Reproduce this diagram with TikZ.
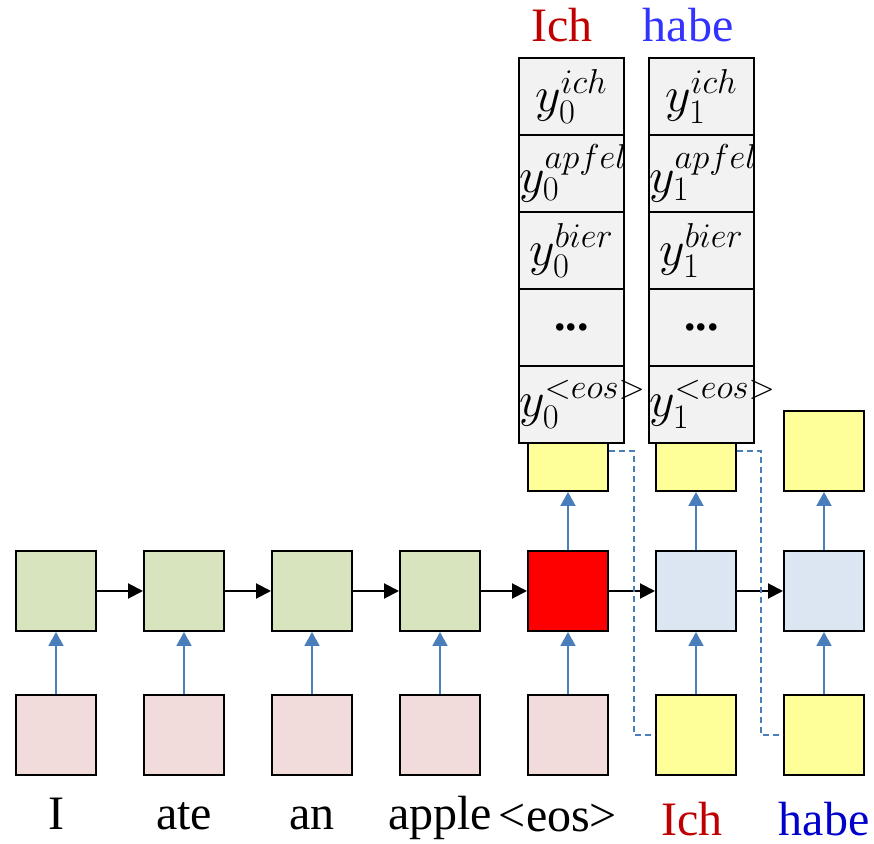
\documentclass[tikz,border=0pt]{standalone}
\usepackage{fontspec}
\setmainfont{Liberation Serif}
\usetikzlibrary{arrows.meta}
\definecolor{encgreen}{HTML}{D7E4BD}
\definecolor{embpink}{HTML}{F2DCDB}
\definecolor{decblue}{HTML}{DCE6F2}
\definecolor{yelfill}{HTML}{FFFF99}
\definecolor{probgray}{HTML}{F2F2F2}
\definecolor{arrblue}{HTML}{4A7EBB}
\definecolor{ichred}{HTML}{C00000}
\definecolor{habeblue}{HTML}{3333FF}
\definecolor{habedark}{HTML}{0000CC}

\begin{document}
\begin{tikzpicture}[x=0.5pt,y=-0.5pt,
  cell/.style={draw,line width=1pt,minimum width=40pt,minimum height=40pt,inner sep=0pt},
  enc/.style={cell,fill=encgreen},
  emb/.style={cell,fill=embpink},
  dec/.style={cell,fill=decblue},
  yel/.style={cell,fill=yelfill},
  prob/.style={draw,line width=1pt,fill=probgray,text width=52.5pt,align=center,minimum height=38.5pt,inner sep=0pt,font=\fontsize{23}{23}\selectfont},
  uparr/.style={draw=arrblue,line width=1pt,-{Triangle[length=7pt,width=7.5pt]}},
  fwd/.style={line width=1pt,-{Triangle[length=7.5pt,width=7.5pt]}},
  feed/.style={draw=arrblue,line width=0.7pt,dash pattern=on 3pt off 2pt},
  word/.style={font=\fontsize{24}{28}\selectfont,anchor=base,inner sep=1pt}]
\useasboundingbox (0,0) rectangle (874,844);

% inputs
\node[emb] (x1) at (56,735) {};
\node[emb] (x2) at (184,735) {};
\node[emb] (x3) at (312,735) {};
\node[emb] (x4) at (440,735) {};
\node[emb] (x5) at (568,735) {};
\node[yel] (t1) at (696,735) {};
\node[yel] (t2) at (824,735) {};

% hidden states
\node[enc] (h1) at (56,591) {};
\node[enc] (h2) at (184,591) {};
\node[enc] (h3) at (312,591) {};
\node[enc] (h4) at (440,591) {};
\node[cell,fill=red] (h5) at (568,591) {};
\node[dec] (d1) at (696,591) {};
\node[dec] (d2) at (824,591) {};

% outputs
\node[yel] (o1) at (568,451) {};
\node[yel] (o2) at (696,451) {};
\node[yel] (o3) at (824,451) {};

% softmax columns
\node[prob] (pA1) at (571.5,96.5) {$y_0^{ich}$};
\node[prob] (pA2) at (571.5,173.5) {$y_0^{apfel}$};
\node[prob] (pA3) at (571.5,250.5) {$y_0^{bier}$};
\node[prob] (pA4) at (571.5,327.5) {\textbf{...}};
\node[prob] (pA5) at (571.5,404.5) {$y_0^{<eos>}$};
\node[prob] (pB1) at (701.5,96.5) {$y_1^{ich}$};
\node[prob] (pB2) at (701.5,173.5) {$y_1^{apfel}$};
\node[prob] (pB3) at (701.5,250.5) {$y_1^{bier}$};
\node[prob] (pB4) at (701.5,327.5) {\textbf{...}};
\node[prob] (pB5) at (701.5,404.5) {$y_1^{<eos>}$};

% words
\node[word,text=ichred] (top1) at (562,42) {Ich};
\node[word,text=habeblue] (top2) at (688,42) {habe};
\node[word] (w1) at (56,830) {I};
\node[word] (w2) at (184,830) {ate};
\node[word] (w3) at (312,830) {an};
\node[word] (w4) at (440,830) {apple};
\node[word] (w5) at (558,832) {<eos>};
\node[word,text=ichred] (w6) at (692,835) {Ich};
\node[word,text=habedark] (w7) at (824,835) {habe};

% connections
\draw[uparr] (x1) -- (h1);
\draw[uparr] (x2) -- (h2);
\draw[uparr] (x3) -- (h3);
\draw[uparr] (x4) -- (h4);
\draw[uparr] (x5) -- (h5);
\draw[uparr] (t1) -- (d1);
\draw[uparr] (t2) -- (d2);
\draw[uparr] (h5) -- (o1);
\draw[uparr] (d1) -- (o2);
\draw[uparr] (d2) -- (o3);
\draw[fwd] (h1) -- (h2);
\draw[fwd] (h2) -- (h3);
\draw[fwd] (h3) -- (h4);
\draw[fwd] (h4) -- (h5);
\draw[fwd] (h5) -- (d1);
\draw[fwd] (d1) -- (d2);
\draw[feed] (o1.east) -- ++(25,0) |- (t1.west);
\draw[feed] (o2.east) -- ++(24,0) |- (t2.west);
\end{tikzpicture}
\end{document}
